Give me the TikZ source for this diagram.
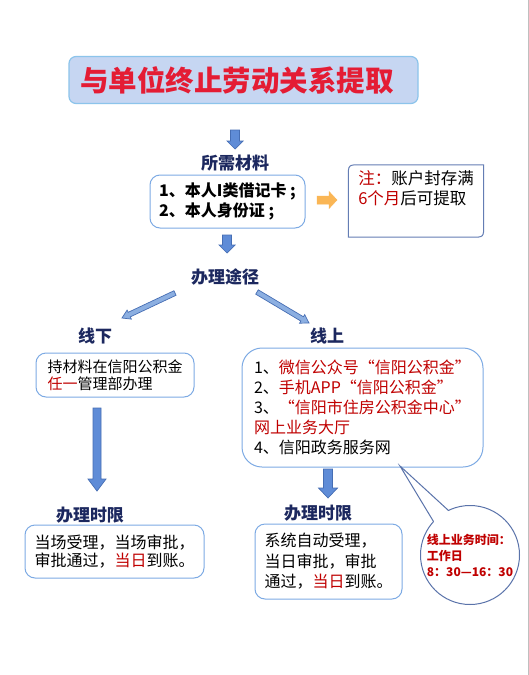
\documentclass[tikz,border=0pt]{standalone}
\usepackage{fontspec}
\setmainfont{Noto Sans CJK SC}
\usetikzlibrary{calc,shapes.geometric}
\definecolor{navy}{RGB}{28,40,95}
\definecolor{darkred}{RGB}{192,0,0}
\definecolor{titlered}{RGB}{228,28,52}
\definecolor{boxline}{RGB}{125,170,228}
\definecolor{titlefill}{RGB}{198,214,242}
\definecolor{titleline}{RGB}{140,196,235}
\definecolor{afill}{RGB}{95,140,215}
\definecolor{aline}{RGB}{70,110,180}
\definecolor{dfill}{RGB}{140,175,225}
\definecolor{ofill}{RGB}{250,182,85}
\definecolor{noteline}{RGB}{100,125,180}
\definecolor{bubline}{RGB}{90,115,170}
% block arrow: [style]{start}{tip}{shaft half width}{head half width}{head length}
\newcommand\barrow[6][]{%
  \filldraw[#1] ($(#2)!#4!90:(#3)$) -- ($(#3)!#6!(#2)!#4!90:(#3)$) -- ($(#3)!#6!(#2)!#5!90:(#3)$)
    -- (#3) -- ($(#3)!#6!(#2)!#5!-90:(#3)$) -- ($(#3)!#6!(#2)!#4!-90:(#3)$) -- ($(#2)!#4!-90:(#3)$) -- cycle;}
\begin{document}
\begin{tikzpicture}[x=1pt,y=-1pt,
  heading/.style={font=\fontsize{17}{20}\selectfont\bfseries, text=navy, inner sep=0pt},
  rbox/.style={draw=boxline, line width=1pt, rounded corners=10pt, fill=white, align=left, inner sep=0pt},
  bluearrow/.style={fill=afill, draw=aline, line width=0.7pt},
  diagarrow/.style={fill=dfill, draw=aline, line width=0.7pt},
  orangearrow/.style={fill=ofill, draw=ofill, line width=0.5pt}]
\useasboundingbox (0,0) rectangle (529,675);
\fill[white] (0,0) rectangle (529,675);
\draw[black!25, line width=1pt] (528,0) -- (528,675);

% title
\node[draw=titleline, line width=1.2pt, fill=titlefill, rounded corners=7pt,
      minimum width=349, minimum height=47, inner sep=0pt,
      font=\fontsize{28.5}{30}\selectfont\bfseries, text=titlered] (title) at (243.5,80)
      {\hspace*{-13pt}与单位终止劳动关系提取};

% materials
\node[heading] (mat) at (235,163) {所需材料};
\node[rbox, minimum width=155, minimum height=53, font=\fontsize{16}{20}\selectfont\bfseries]
  (matbox) at (227.5,201.5) {1、本人I类借记卡 ;\\2、本人身份证 ;};

% note box
\node[inner sep=0pt, minimum width=135, minimum height=72, align=left,
      font=\fontsize{16.5}{20}\selectfont] (note) at (416,201)
  {{\color{darkred}注：}账户封存满\\{\color{darkred}6个月}后可提取\\[6pt]};
\draw[noteline, line width=1pt] (note.south west) -- ($(note.north west)+(0,12)$)
  .. controls (note.north west) .. ($(note.north west)+(12,0)$) -- (note.north east)
  -- ($(note.south east)+(0,-12)$) .. controls (note.south east) .. ($(note.south east)+(-12,0)$)
  -- cycle;

% ways
\node[heading] (way) at (225,277) {办理途径};
\node[heading] (off) at (95,336) {线下};
\node[heading] (on) at (327,336) {线上};

\node[rbox, minimum width=158, minimum height=44, font=\fontsize{15}{17}\selectfont]
  (offbox) at (115,375) {持材料在信阳公积金\\{\color{darkred}任一}管理部办理};
\node[rbox, rounded corners=20pt, minimum width=241, minimum height=119, font=\fontsize{16}{20}\selectfont]
  (onbox) at (362.5,407.5)
  {1、{\color{darkred}微信公众号“信阳公积金”}\\
   2、{\color{darkred}手机APP“信阳公积金”}\\
   3、{\color{darkred}“信阳市住房公积金中心”}\\
   {\color{darkred}网上业务大厅}\\
   4、信阳政务服务网};

% time limits
\node[heading] (t1) at (90,515) {办理时限};
\node[heading] (t2) at (318,513) {办理时限};
\node[rbox, minimum width=179, minimum height=53, font=\fontsize{16}{17.5}\selectfont]
  (tbox1) at (114.5,551.5) {当场受理，当场审批，\\审批通过，{\color{darkred}当日}到账。};
\node[rbox, minimum width=147, minimum height=75, font=\fontsize{16}{20.5}\selectfont]
  (tbox2) at (328.5,561.5) {系统自动受理，\\当日审批，审批\\通过，{\color{darkred}当日}到账。};

% callout bubble
\node[circle, draw=bubline, line width=1pt, fill=white, minimum size=99, inner sep=0pt,
      align=left, text=darkred, font=\fontsize{12}{16}\selectfont\bfseries]
  (bubble) at (470,555) {线上业务时间：\\工作日\\8：30—16：30};
\coordinate (tailtip) at (400,466);
\coordinate (tailA) at (448.5,510.5);
\coordinate (tailB) at (433.5,521.5);
\fill[white] (tailtip) -- ($(tailA)!1.5pt!(bubble.center)$) -- ($(tailB)!1.5pt!(bubble.center)$) -- cycle;
\draw[bubline, line width=1pt] (tailA) -- (tailtip) -- (tailB);

% arrows
\coordinate (a1s) at (235,130); \coordinate (a1e) at (235,149);
\barrow[bluearrow]{a1s}{a1e}{4.5pt}{8pt}{8pt}
\coordinate (a2s) at (227,235); \coordinate (a2e) at (227,253);
\barrow[bluearrow]{a2s}{a2e}{4.5pt}{8pt}{8pt}
\coordinate (a3s) at (175,293); \coordinate (a3e) at (122,318);
\barrow[diagarrow]{a3s}{a3e}{2.5pt}{5pt}{8pt}
\coordinate (a4s) at (257,292); \coordinate (a4e) at (309,323);
\barrow[diagarrow]{a4s}{a4e}{2.5pt}{5pt}{8pt}
\coordinate (a5s) at (97,408); \coordinate (a5e) at (97,491);
\barrow[bluearrow]{a5s}{a5e}{4pt}{9pt}{12pt}
\coordinate (a6s) at (328,469); \coordinate (a6e) at (328,498);
\barrow[bluearrow]{a6s}{a6e}{4.5pt}{9.5pt}{10pt}
\coordinate (a7s) at (317,200); \coordinate (a7e) at (337,200);
\barrow[orangearrow]{a7s}{a7e}{4pt}{8.5pt}{8pt}
\end{tikzpicture}
\end{document}
